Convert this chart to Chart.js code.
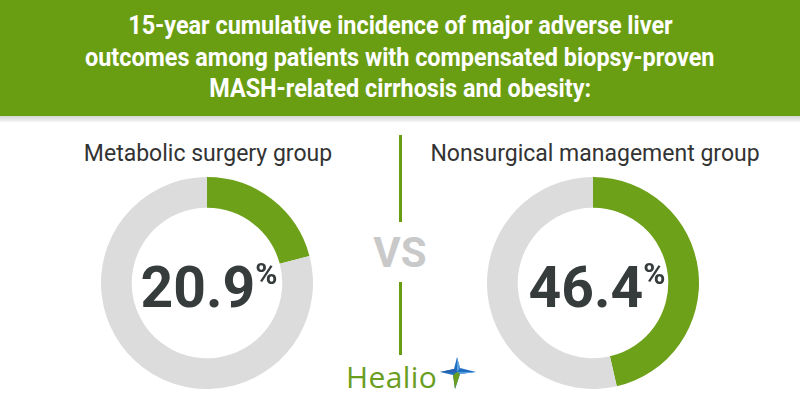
<!DOCTYPE html>
<html>
<head>
<meta charset="utf-8">
<script src="https://cdn.jsdelivr.net/npm/chart.js@4/dist/chart.umd.min.js"></script>
<style>
  html, body { margin: 0; padding: 0; }
  body { width: 800px; height: 420px; position: relative; overflow: hidden; background: #ffffff; font-family: Roboto, "Noto Sans", sans-serif; }
  #header { position: absolute; left: 0; top: 0; width: 800px; height: 116px; background: #6a9e12; }
  #strip { position: absolute; left: 0; top: 116px; width: 800px; height: 6px; background: linear-gradient(#d6d6d6, #f4f4f4); }
  .tline { position: absolute; left: 0; width: 800px; text-align: center; color: #fff; font-weight: 700; font-size: 26px; line-height: 1; white-space: nowrap; }
  .tline span { display: inline-block; transform: scaleX(0.9); transform-origin: center; }
  .sub { position: absolute; top: 142px; color: #333; font-size: 23px; line-height: 1; white-space: nowrap; transform: translateX(-50%); }
  .chartbox { position: absolute; width: 212px; height: 212px; }
  .num { position: absolute; color: #363b3c; font-weight: 700; white-space: nowrap; line-height: 1; transform: translate(-50%, 0); }
  .num .v { font-size: 57px; }
  .num .p { font-size: 30px; vertical-align: top; position: relative; top: 0px; margin-left: 0px; }
  .vline { position: absolute; left: 399px; width: 3px; background: #6a9e12; }
  #vs { position: absolute; left: 400px; top: 232px; transform: translateX(-50%); color: #c9c9c9; font-weight: 700; font-size: 42px; line-height: 1; }
  #logo { position: absolute; left: 346px; top: 362px; color: #6a9e1f; font-size: 30px; font-weight: 500; line-height: 1; font-family: "Open Sans", Roboto, sans-serif; letter-spacing: 0.4px; }
  #star { position: absolute; left: 436px; top: 353px; }
</style>
</head>
<body>
<div id="header"></div>
<div id="strip"></div>
<div class="tline" style="top:12px"><span id="t1"></span></div>
<div class="tline" style="top:44px"><span id="t2"></span></div>
<div class="tline" style="top:75px"><span id="t3"></span></div>

<div class="sub" id="s0" style="left:208px"></div>
<div class="sub" id="s1" style="left:595px"></div>

<div class="chartbox" style="left:101px; top:177px"><canvas id="c0" width="212" height="212"></canvas></div>
<div class="chartbox" style="left:487px; top:177px"><canvas id="c1" width="212" height="212"></canvas></div>

<div class="num" id="n0" style="left:209px; top:259px"></div>
<div class="num" id="n1" style="left:597px; top:259px"></div>

<div class="vline" style="top:135px; height:87px"></div>
<div class="vline" style="top:282px; height:73px"></div>
<div id="vs">VS</div>

<div id="logo">Healio</div>
<svg id="star" width="44" height="38" viewBox="0 0 44 38">
  <polygon points="21,4 24,15 40,19 24,21 19,36 17,22 4,19 18,16" fill="#1f6fc0"/>
  <polygon points="21,4 24,15 21,19" fill="#5aa0e0"/>
  <polygon points="40,19 24,21 21,19" fill="#5aa0e0"/>
  <polygon points="4,19 18,16 21,19" fill="#2a5fae"/>
  <polygon points="19,36 17,22 21,19 24,21" fill="#6a9e1f"/>
</svg>

<script>
const titleLines = [
  "15-year cumulative incidence of major adverse liver",
  "outcomes among patients with compensated biopsy-proven",
  "MASH-related cirrhosis and obesity:"
];
const groups = ["Metabolic surgery group", "Nonsurgical management group"];
const incidence = [20.9, 46.4];
const total = 100;

document.getElementById('t1').textContent = titleLines[0];
document.getElementById('t2').textContent = titleLines[1];
document.getElementById('t3').textContent = titleLines[2];

groups.forEach((g, i) => {
  document.getElementById('s' + i).textContent = g;
  document.getElementById('n' + i).innerHTML = '<span class="v">' + incidence[i].toFixed(1) + '</span><span class="p">%</span>';
  new Chart(document.getElementById('c' + i), {
    type: 'doughnut',
    data: {
      labels: [g, 'Other'],
      datasets: [{
        data: [incidence[i], total - incidence[i]],
        backgroundColor: ['#6ea11a', '#dcdcdc'],
        borderWidth: 0,
        hoverOffset: 0
      }]
    },
    options: {
      responsive: false,
      animation: false,
      cutout: '71%',
      rotation: 0,
      layout: { padding: 0 },
      plugins: { legend: { display: false }, tooltip: { enabled: false } },
      events: []
    }
  });
});
</script>
</body>
</html>
